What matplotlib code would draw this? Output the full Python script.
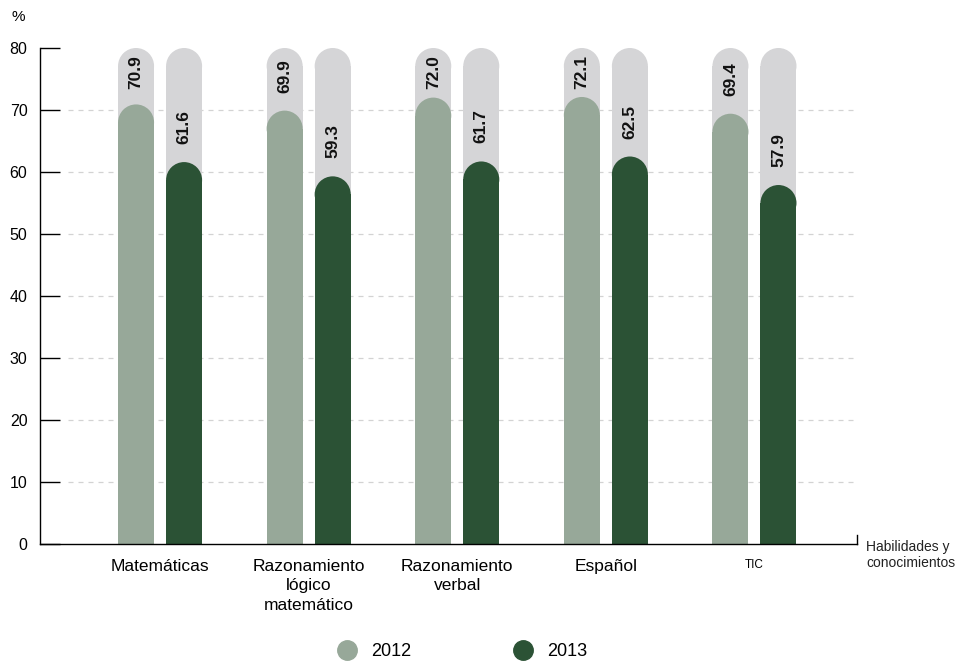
import matplotlib.pyplot as plt
from matplotlib.patches import Ellipse
from matplotlib.lines import Line2D

plt.rcParams['font.family'] = ['Liberation Sans', 'DejaVu Sans']

categories = ["Matemáticas", "Razonamiento\nlógico\nmatemático", "Razonamiento\nverbal", "Español", "TIC"]
values_2012 = [70.9, 69.9, 72.0, 72.1, 69.4]
values_2013 = [61.6, 59.3, 61.7, 62.5, 57.9]
years = ["2012", "2013"]
y_ticks = [0, 10, 20, 30, 40, 50, 60, 70, 80]

c_2012 = "#97a899"
c_2013 = "#2b5235"
c_back = "#d5d5d7"

fig = plt.figure(figsize=(9.6, 6.63), dpi=100)
ax = fig.add_axes([40 / 960, 119 / 663, 817 / 960, 496 / 663])

xmin, xmax = -0.808, 4.69
ax.set_xlim(xmin, xmax)
ax.set_ylim(0, 80)

width = 0.2424
offset = 0.1616
# rounded top: radius in pixels = half bar width, converted to y units
r_y = 18 / 6.2


def round_bar(x, top, color, z):
    ax.bar(x, top - r_y, width=width, color=color, zorder=z, linewidth=0)
    ax.add_patch(Ellipse((x, top - r_y), width, 2 * r_y, color=color, zorder=z, linewidth=0))


# gridlines
for t in y_ticks[1:-1]:
    ax.plot([xmin + 0.19, xmax], [t, t], color="#d3d3d3", lw=0.9, ls=(0, (4, 4)), zorder=0)

for i in range(len(categories)):
    for j, (vals, col) in enumerate([(values_2012, c_2012), (values_2013, c_2013)]):
        x = i + (j * 2 - 1) * offset
        round_bar(x, 80, c_back, 1)
        round_bar(x, vals[i], col, 2)
        # label sits above the bar, but not past the top of the grey track
        ax.text(x, min(vals[i] + 2.9, 73.4), f"{vals[i]:.1f}", rotation=90, ha="center", va="bottom",
                fontsize=12.5, fontweight="bold", color="#111111", zorder=3)

ax.spines["top"].set_visible(False)
ax.spines["right"].set_visible(False)
ax.spines["left"].set_linewidth(1)
ax.spines["bottom"].set_linewidth(1)

ax.set_yticks(y_ticks)
ax.tick_params(axis="y", direction="in", length=14.4, width=1, pad=9, labelsize=11.5)
ax.set_xticks(range(len(categories)))
ax.set_xticklabels(categories, fontsize=12.5, linespacing=1.35)
ax.get_xticklabels()[-1].set_fontsize(8.5)
ax.tick_params(axis="x", length=0, pad=11)

# small tick at right end of the x axis
ax.plot([xmax, xmax], [0, 1.5], color="black", lw=1, clip_on=False)

fig.text(18 / 960, 1 - 17 / 663, "%", fontsize=11, ha="center", va="center")
fig.text(866 / 960, 1 - 540 / 663, "Habilidades y\nconocimientos", fontsize=10, ha="left", va="top",
         linespacing=1.2, color="#222222")

handles = [Line2D([], [], marker="o", ls="", markersize=14, color=c) for c in (c_2012, c_2013)]
fig.legend(handles, years, loc="center", bbox_to_anchor=(458 / 960, 1 - 652 / 663), ncol=2,
           frameon=False, fontsize=13, columnspacing=5.2, handletextpad=0.35)

fig.savefig("out.png", dpi=100)
